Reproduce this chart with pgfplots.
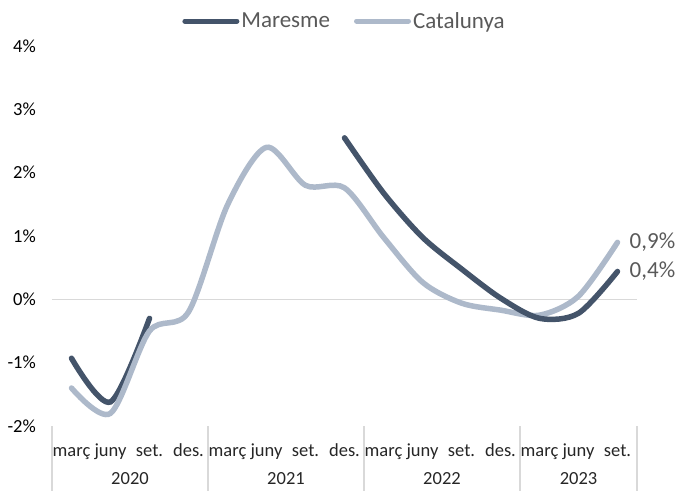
\documentclass[border=0pt]{standalone}
\usepackage{fontspec}
\setmainfont{Carlito}
\usepackage{pgfplots}
\pgfplotsset{compat=1.18}
\definecolor{mar}{HTML}{44546A}
\definecolor{cat}{HTML}{ADB9CA}
\definecolor{gridc}{HTML}{D9D9D9}
\definecolor{txt}{HTML}{595959}
\definecolor{tick}{HTML}{262626}

\begin{document}
\begin{tikzpicture}
\useasboundingbox (-52bp,-65bp) rectangle (626bp,426bp);
\begin{axis}[
  at={(0,0)}, anchor=south west,
  scale only axis, width=585bp, height=380bp,
  xmin=-0.5, xmax=14.5, ymin=-2, ymax=4,
  clip=false,
  axis x line*=bottom, axis y line*=left,
  axis line style={draw=none},
  major tick length=0pt,
  tick align=outside,
  xtick={0,...,14},
  xticklabels={març,juny,set.,des.,març,juny,set.,des.,març,juny,set.,des.,març,juny,set.},
  minor xtick={-0.5,3.5,7.5,11.5,14.5},
  minor x tick style={draw=gridc, line width=1.2bp},
  minor tick length=65bp,
  xticklabel style={anchor=base, inner sep=0pt, yshift=-30bp, text=tick,
    font=\fontsize{18.5bp}{22bp}\selectfont},
  extra x ticks={1.5,5.5,9.5,13},
  extra x tick labels={2020,2021,2022,2023},
  extra x tick style={major tick length=0pt, xticklabel style={yshift=-28bp}},
  ytick={-2,-1,0,1,2,3,4},
  yticklabels={-2\%,-1\%,0\%,1\%,2\%,3\%,4\%},
  yticklabel style={anchor=east, inner sep=0pt, xshift=-16bp, text=black,
    font=\fontsize{18.5bp}{22bp}\selectfont},
  extra y ticks={0},
  extra y tick labels={},
  extra y tick style={grid=major, major grid style={draw=gridc, line width=1.5bp}},
  legend columns=2,
  legend style={at={(0.5,1)}, anchor=center, yshift=25bp, draw=none, fill=none,
    font=\fontsize{23bp}{27bp}\selectfont, text=txt,
    /tikz/every even column/.append style={column sep=22bp}},
  legend cell align=left,
  legend image code/.code={\draw[#1, line width=5bp, line cap=round] (0bp,0bp) -- (52bp,0bp);},
]
\addplot[mar, line width=5.5bp, line cap=round, smooth, tension=0.5] coordinates {
  (0,-0.93) (1,-1.62) (2,-0.3)
};
\addlegendentry{Maresme}
\addplot[cat, line width=5.5bp, line cap=round, smooth, tension=0.5] coordinates {
  (0,-1.4) (1,-1.8) (2,-0.5) (3,-0.2) (4,1.49) (5,2.4) (6,1.8) (7,1.76)
  (8,0.98) (9,0.27) (10,-0.06) (11,-0.17) (12,-0.25) (13,0.05) (14,0.9)
};
\addlegendentry{Catalunya}
\addplot[mar, line width=5.5bp, line cap=round, smooth, tension=0.5, forget plot] coordinates {
  (7,2.55) (8,1.68) (9,0.98) (10,0.48) (11,0.02) (12,-0.3) (13,-0.22) (14,0.44)
};
\node[anchor=west, inner sep=0pt, text=txt, font=\fontsize{23bp}{27bp}\selectfont, xshift=12bp] at (axis cs:14,0.9) {0,9\%};
\node[anchor=west, inner sep=0pt, text=txt, font=\fontsize{23bp}{27bp}\selectfont, xshift=12bp] at (axis cs:14,0.44) {0,4\%};
\end{axis}
\end{tikzpicture}
\end{document}
